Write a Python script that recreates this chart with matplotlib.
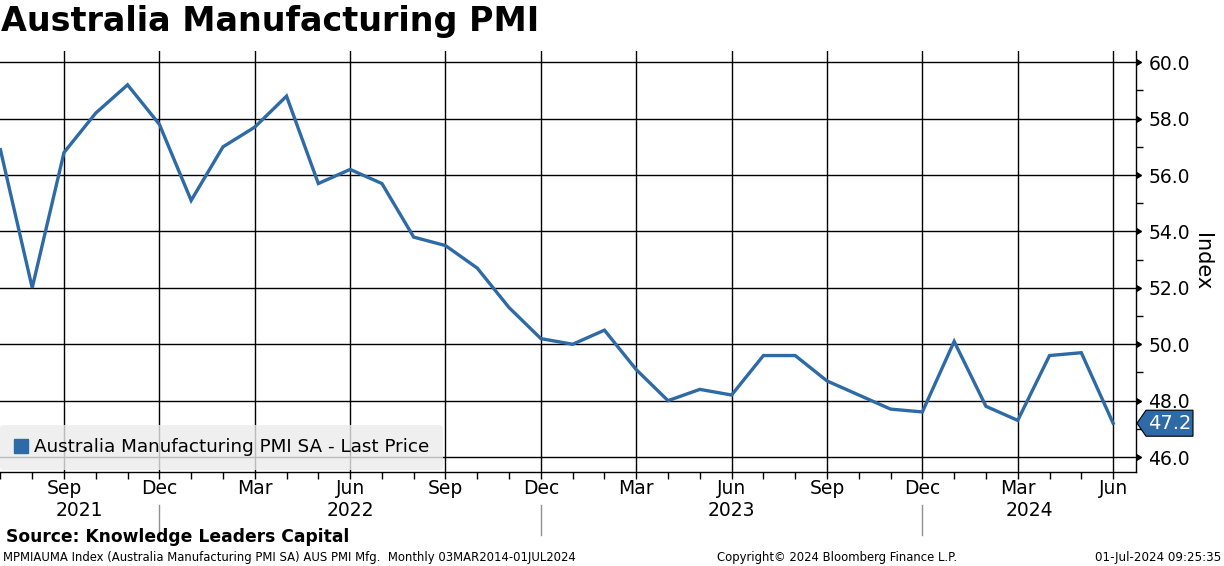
import matplotlib
matplotlib.use("Agg")
import matplotlib.pyplot as plt
from matplotlib.lines import Line2D
from matplotlib.patches import Polygon
from matplotlib.transforms import IdentityTransform

# ---- data ----
months = ["Jul", "Aug", "Sep", "Oct", "Nov", "Dec",
          "Jan", "Feb", "Mar", "Apr", "May", "Jun",
          "Jul", "Aug", "Sep", "Oct", "Nov", "Dec",
          "Jan", "Feb", "Mar", "Apr", "May", "Jun",
          "Jul", "Aug", "Sep", "Oct", "Nov", "Dec",
          "Jan", "Feb", "Mar", "Apr", "May", "Jun"]
years = [2021] * 6 + [2022] * 12 + [2023] * 12 + [2024] * 6
pmi = [56.9, 52.0, 56.8, 58.2, 59.2, 57.8,
       55.1, 57.0, 57.7, 58.8, 55.7, 56.2,
       55.7, 53.8, 53.5, 52.7, 51.3, 50.2,
       50.0, 50.5, 49.1, 48.0, 48.4, 48.2,
       49.6, 49.6, 48.7, 48.2, 47.7, 47.6,
       50.1, 47.8, 47.3, 49.6, 49.7, 47.2]
y_ticks = [46.0, 48.0, 50.0, 52.0, 54.0, 56.0, 58.0, 60.0]
series_label = "Australia Manufacturing PMI SA - Last Price"
title = "Australia Manufacturing PMI"

BLUE = "#2d6aa6"
W, H = 1224, 566

fig = plt.figure(figsize=(W / 100, H / 100), dpi=100)
plt.rcParams['font.family'] = ['DejaVu Sans']

ax_l, ax_r, ax_t, ax_b = 0, 1136, 51, 472
ax = fig.add_axes([ax_l / W, 1 - ax_b / H, (ax_r - ax_l) / W, (ax_b - ax_t) / H])

x = list(range(len(pmi)))
ax.plot(x, pmi, color=BLUE, lw=2.4, solid_joinstyle='miter', zorder=3, clip_on=False)

xmin, xmax = -0.013, len(pmi) - 1 + 0.72
ax.set_xlim(xmin, xmax)
ax.set_ylim(45.47, 60.40)

# grid
quarter_idx = [i for i, m in enumerate(months) if m in ("Mar", "Jun", "Sep", "Dec")]
for i in quarter_idx:
    ax.axvline(i, color="black", lw=1.0, zorder=1)
for yv in y_ticks:
    ax.axhline(yv, color="black", lw=1.0, zorder=1)

for s in ("top", "left"):
    ax.spines[s].set_visible(False)
for s in ("right", "bottom"):
    ax.spines[s].set_color("black")
    ax.spines[s].set_linewidth(1.0)

# x ticks
ax.set_xticks(x, minor=True)
ax.set_xticks(quarter_idx)
ax.set_xticklabels([months[i] for i in quarter_idx], fontsize=13.5)
ax.tick_params(axis='x', which='both', direction='out', length=5, width=1, pad=0)

# y ticks on right
ax.yaxis.tick_right()
ax.set_yticks(y_ticks)
ax.set_yticklabels([f"{v:.1f}" for v in y_ticks], fontsize=13.5)
ax.set_yticks([v + 1 for v in y_ticks[:-1]], minor=True)
ax.tick_params(axis='y', which='major', length=0, pad=9)
ax.tick_params(axis='y', which='minor', direction='out', length=5, width=1)
ax.plot([1.0] * len(y_ticks), y_ticks, linestyle='none', marker=9, markersize=5,
        color='black', transform=ax.get_yaxis_transform(), clip_on=False, zorder=5)

ax.yaxis.set_label_position("right")
ax.set_ylabel("Index", rotation=270, fontsize=15, labelpad=16)

# year labels and separators
dec_idx = [i for i, m in enumerate(months) if m == "Dec"]
bounds = [xmin] + dec_idx + [xmax]
uniq_years = sorted(set(years))
for k, yr in enumerate(uniq_years):
    cx = (bounds[k] + bounds[k + 1]) / 2
    ax.annotate(str(yr), xy=(cx, 0), xycoords=('data', 'axes fraction'),
                xytext=(0, -(511 - ax_b)), textcoords='offset pixels',
                ha='center', va='center', fontsize=13.5)
for d in dec_idx:
    ax.plot([d, d], [-(505 - ax_b) / (ax_b - ax_t), -(535 - ax_b) / (ax_b - ax_t)],
            color='#909090', lw=1.0, transform=ax.get_xaxis_transform(), clip_on=False)

# legend
handle = Line2D([], [], marker='s', linestyle='none', color=BLUE, markersize=10)
leg = ax.legend([handle], [series_label], loc='lower left',
                bbox_to_anchor=(0, 2 / (ax_b - ax_t)), borderaxespad=0,
                fontsize=13.2, frameon=True, fancybox=True, framealpha=0.8,
                facecolor='#ebebeb', edgecolor='none', handlelength=0.8,
                handletextpad=0.3, borderpad=0.75)
leg.set_zorder(4)

# last price tag
fig.canvas.draw()
px, py = ax.transData.transform((xmax, pmi[-1]))
hh = 13
tag = Polygon([(px + 1, py), (px + 10, py + hh), (px + 57, py + hh),
               (px + 57, py - hh), (px + 10, py - hh)], closed=True,
              facecolor=BLUE, edgecolor='black', lw=0.8,
              transform=IdentityTransform(), clip_on=False, zorder=6)
fig.add_artist(tag)
fig.text((px + 34) / W, py / H, f"{pmi[-1]:.1f}", color='white', fontsize=14,
         ha='center', va='center', zorder=7)

# title and footers
fig.text(1 / W, 1 - 22 / H, title, fontsize=24, fontweight='bold', ha='left', va='center')
fig.text(6 / W, 1 - 537 / H, "Source: Knowledge Leaders Capital", fontsize=12.3,
         fontweight='bold', ha='left', va='center')
fig.text(3 / W, 1 - 557 / H,
         "MPMIAUMA Index (Australia Manufacturing PMI SA) AUS PMI Mfg.  Monthly 03MAR2014-01JUL2024",
         fontsize=8.4, ha='left', va='center')
fig.text(837 / W, 1 - 557 / H, "Copyright\u00a9 2024 Bloomberg Finance L.P.", fontsize=8.4,
         ha='center', va='center')
fig.text(1221 / W, 1 - 557 / H, "01-Jul-2024 09:25:35", fontsize=8.6, ha='right', va='center')

fig.savefig("out.png", dpi=100)
